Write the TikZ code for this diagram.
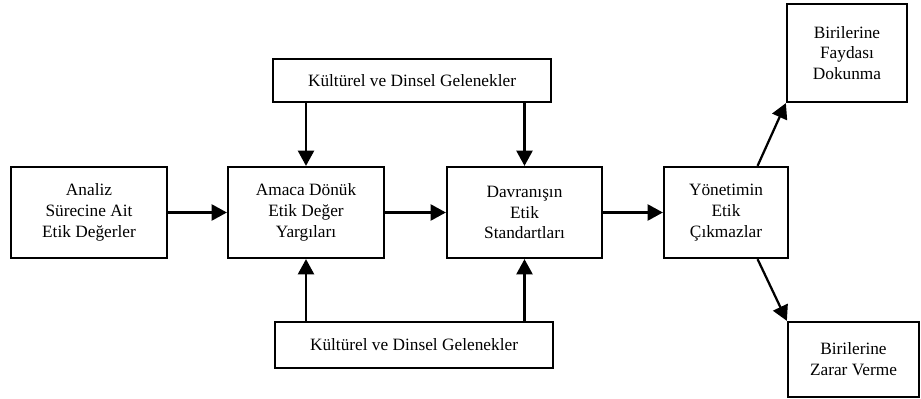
\documentclass[tikz,border=0pt]{standalone}
\usepackage{fontspec}
\setmainfont{Liberation Serif}
\usepackage{tikz}
\usetikzlibrary{positioning,arrows.meta,calc}

\begin{document}
\begin{tikzpicture}[
    x=0.025cm, y=-0.025cm,
    box/.style={draw=black, line width=1.6pt, align=center, inner sep=2pt, font=\fontsize{12.3}{14.8}\selectfont},
    arr/.style={-{Triangle[length=0.38cm, width=0.4cm]}, line width=1.6pt},
]
\useasboundingbox (0,0) rectangle (921,399);

\node[box, minimum width=156*0.025cm, minimum height=91*0.025cm] (analiz) at (89, 212.5) {Analiz\\Sürecine Ait\\Etik Değerler};
\node[box, minimum width=156*0.025cm, minimum height=91*0.025cm] (amaca) at (306, 212.5) {Amaca Dönük\\Etik Değer\\Yargıları};
\node[box, minimum width=155*0.025cm, minimum height=91*0.025cm] (davranis) at (524.5, 212.5) {Davranışın\\Etik\\Standartları};
\node[box, minimum width=124*0.025cm, minimum height=91*0.025cm] (yonetim) at (726, 212.5) {Yönetimin\\Etik\\Çıkmazlar};

\node[box, minimum width=278*0.025cm, minimum height=43*0.025cm] (ustkultur) at (412, 80.5) {Kültürel ve Dinsel Gelenekler};
\node[box, minimum width=278*0.025cm, minimum height=46*0.025cm] (altkultur) at (414, 345) {Kültürel ve Dinsel Gelenekler};

\node[box, minimum width=120*0.025cm, minimum height=98*0.025cm] (fayda) at (847, 53) {Birilerine\\Faydası\\Dokunma};
\node[box, minimum width=131*0.025cm, minimum height=75*0.025cm] (zarar) at (853.5, 359.5) {Birilerine\\Zarar Verme};

\coordinate (yonust) at ($(yonetim.north)!0.5!(yonetim.north east)$);
\coordinate (yonalt) at ($(yonetim.south)!0.5!(yonetim.south east)$);

\draw[arr] (analiz) -- (amaca);
\draw[arr] (amaca) -- (davranis);
\draw[arr] (davranis) -- (yonetim);
\draw[arr] (amaca.north |- ustkultur.south) -- (amaca.north);
\draw[arr] (davranis.north |- ustkultur.south) -- (davranis.north);
\draw[arr] (amaca.south |- altkultur.north) -- (amaca.south);
\draw[arr] (davranis.south |- altkultur.north) -- (davranis.south);
\draw[arr] (yonust) -- (fayda.south west);
\draw[arr] (yonalt) -- (zarar.north west);

\end{tikzpicture}
\end{document}
